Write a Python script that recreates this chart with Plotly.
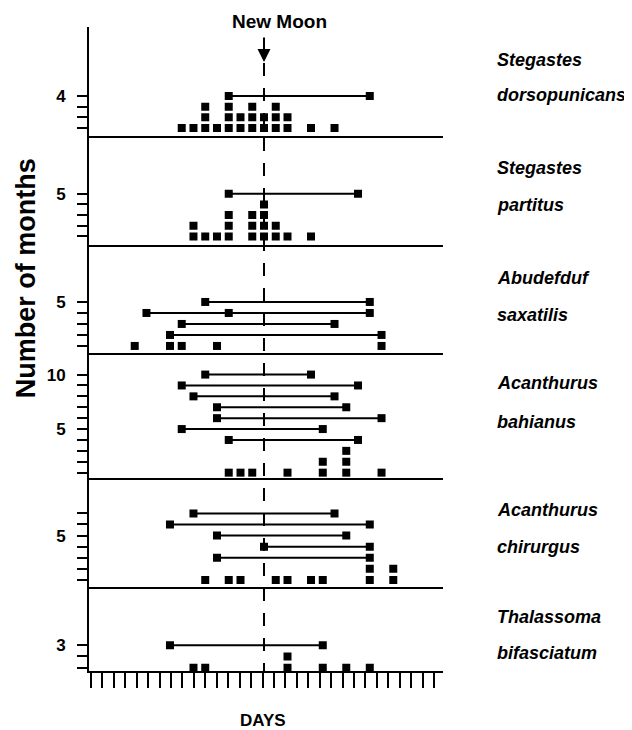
import plotly.graph_objects as go

# ---------------- data ----------------
species_genus = ["Stegastes", "Stegastes", "Abudefduf", "Acanthurus", "Acanthurus", "Thalassoma"]
species_epithet = ["dorsopunicans", "partitus", "saxatilis", "bahianus", "chirurgus", "bifasciatum"]

# single-peak months: days relative to new moon, and number of months on that day
hist_days_1 = [-7, -6, -5, -4, -3, -2, -1, 0, 1, 2, 4, 6]
hist_counts_1 = [1, 1, 3, 1, 3, 2, 3, 2, 3, 2, 1, 1]
hist_days_2 = [-6, -5, -4, -3, -1, 0, 1, 2, 4]
hist_counts_2 = [2, 1, 1, 3, 3, 4, 2, 1, 1]
hist_days_3 = [-11, -8, -7, -4, 10]
hist_counts_3 = [1, 1, 1, 1, 1]
hist_days_4 = [-3, -2, -1, 2, 5, 7, 10]
hist_counts_4 = [1, 1, 1, 1, 2, 3, 1]
hist_days_5 = [-5, -3, -2, 1, 2, 4, 5, 9, 11]
hist_counts_5 = [1, 1, 1, 1, 1, 1, 1, 2, 2]
hist_days_6 = [-6, -5, 2, 5, 7, 9]
hist_counts_6 = [1, 1, 2, 1, 1, 1]

# multi-peak months: start day, end day, row (month number)
range_start_1 = [-3]
range_end_1 = [9]
range_row_1 = [4]
range_start_2 = [-3]
range_end_2 = [8]
range_row_2 = [5]
range_start_3 = [-5, -10, -7, -8]
range_end_3 = [9, 9, 6, 10]
range_row_3 = [5, 4, 3, 2]
range_start_4 = [-5, -7, -6, -4, -4, -7, -3]
range_end_4 = [4, 8, 6, 7, 10, 5, 8]
range_row_4 = [10, 9, 8, 7, 6, 5, 4]
range_start_5 = [-6, -8, -4, 0, -4]
range_end_5 = [6, 9, 7, 9, 9]
range_row_5 = [7, 6, 5, 4, 3]
range_start_6 = [-8]
range_end_6 = [5]
range_row_6 = [3]

# intermediate peak inside a range
mid_days_3 = [-3]
mid_row_3 = [4]

ytick_max = [4, 5, 5, 10, 7, 3]
ytick_labelled = [[4], [5], [5], [5, 10], [5], [3]]

hist_days = [hist_days_1, hist_days_2, hist_days_3, hist_days_4, hist_days_5, hist_days_6]
hist_counts = [hist_counts_1, hist_counts_2, hist_counts_3, hist_counts_4, hist_counts_5, hist_counts_6]
range_start = [range_start_1, range_start_2, range_start_3, range_start_4, range_start_5, range_start_6]
range_end = [range_end_1, range_end_2, range_end_3, range_end_4, range_end_5, range_end_6]
range_row = [range_row_1, range_row_2, range_row_3, range_row_4, range_row_5, range_row_6]

# ---------------- layout helpers ----------------
domains = [[0.8315, 1.0], [0.6615, 0.8315], [0.4938, 0.6615],
           [0.2997, 0.4938], [0.1312, 0.2997], [0.0, 0.1312]]
yranges = [[0.30, 10.47], [0.20, 10.46], [0.36, 10.18],
           [0.51, 11.98], [0.41, 10.19], [0.70, 8.24]]

FONT = "Liberation Sans, Arial, Helvetica, sans-serif"
fig = go.Figure()

for i in range(6):
    k = i + 1
    xa = "x" if k == 1 else f"x{k}"
    ya = "y" if k == 1 else f"y{k}"
    # stacked squares
    xs, ys = [], []
    for d, c in zip(hist_days[i], hist_counts[i]):
        for lvl in range(1, c + 1):
            xs.append(d)
            ys.append(lvl)
    fig.add_trace(go.Scatter(x=xs, y=ys, mode="markers", xaxis=xa, yaxis=ya,
                             marker=dict(symbol="square", size=8, color="black"),
                             showlegend=False, hoverinfo="skip"))
    # ranges
    lx, ly = [], []
    for s, e, r in zip(range_start[i], range_end[i], range_row[i]):
        lx += [s, e, None]
        ly += [r, r, None]
    fig.add_trace(go.Scatter(x=lx, y=ly, mode="lines+markers", xaxis=xa, yaxis=ya,
                             line=dict(color="black", width=2),
                             marker=dict(symbol="square", size=8, color="black"),
                             showlegend=False, hoverinfo="skip"))
    if i == 2:
        fig.add_trace(go.Scatter(x=mid_days_3, y=mid_row_3, mode="markers", xaxis=xa, yaxis=ya,
                                 marker=dict(symbol="square", size=8, color="black"),
                                 showlegend=False, hoverinfo="skip"))

    tv = list(range(1, ytick_max[i] + 1))
    tt = [str(v) if v in ytick_labelled[i] else "" for v in tv]
    xkey = "xaxis" if k == 1 else f"xaxis{k}"
    ykey = "yaxis" if k == 1 else f"yaxis{k}"
    xdict = dict(domain=[0, 1], anchor=ya, range=[-14.89, 15.23],
                 showline=True, linewidth=2, linecolor="black",
                 showgrid=False, zeroline=False, showticklabels=False)
    if k != 1:
        xdict["matches"] = "x"
    if k == 6:
        xdict.update(ticks="outside", ticklen=15, tickwidth=2, tickcolor="black",
                     tick0=-14.72, dtick=0.973)
    else:
        xdict.update(ticks="")
    fig.update_layout({xkey: xdict})
    fig.update_layout({ykey: dict(domain=domains[i], anchor=xa, range=yranges[i],
                                  showline=True, linewidth=2, linecolor="black",
                                  showgrid=False, zeroline=False,
                                  ticks="outside", ticklen=10, tickwidth=2, tickcolor="black",
                                  tickvals=tv, ticktext=tt, ticklabelstandoff=8,
                                  tickfont=dict(family=FONT, size=17, color="black", weight="bold"))})

# new moon dashed line
fig.add_shape(type="line", xref="x", yref="paper", x0=0, x1=0, y0=0.944, y1=0.0,
              line=dict(color="black", width=2, dash="13px,12px"))

annotations = []
# New Moon label and arrow
annotations.append(dict(text="New Moon", x=1.32, xref="x", y=1.0093, yref="paper",
                        showarrow=False, xanchor="center", yanchor="middle",
                        font=dict(family=FONT, size=19, color="black", weight="bold")))
annotations.append(dict(text="", x=0, xref="x", y=0.9457, yref="paper",
                        showarrow=True, ax=0, ay=-26, axref="pixel", ayref="pixel",
                        arrowhead=2, arrowsize=1.3, arrowwidth=2, arrowcolor="black"))
# species names
genus_y = [0.9488, 0.7811, 0.6102, 0.4472, 0.25, 0.0839]
epithet_y = [0.8944, 0.7236, 0.5528, 0.3866, 0.1925, 0.0280]
for g, e, gy, ey in zip(species_genus, species_epithet, genus_y, epithet_y):
    for t, yy in ((g, gy), (e, ey)):
        annotations.append(dict(text=t, x=1.147, xref="paper", y=yy, yref="paper",
                                showarrow=False, xanchor="left", yanchor="middle",
                                font=dict(family=FONT, size=18, color="black",
                                          weight="bold", style="italic")))
# axis titles
annotations.append(dict(text="Number of months", x=-0.178, xref="paper", y=0.610, yref="paper",
                        textangle=-90, showarrow=False, xanchor="center", yanchor="middle",
                        font=dict(family=FONT, size=27, color="black", weight="bold")))
annotations.append(dict(text="DAYS", x=0.4915, xref="paper", y=-0.0761, yref="paper",
                        showarrow=False, xanchor="center", yanchor="middle",
                        font=dict(family=FONT, size=17, color="black", weight="bold")))

fig.update_layout(width=624, height=722, margin=dict(l=81, r=189, t=19, b=59),
                  paper_bgcolor="white", plot_bgcolor="white",
                  annotations=annotations, showlegend=False)

fig.write_html("out.html")
